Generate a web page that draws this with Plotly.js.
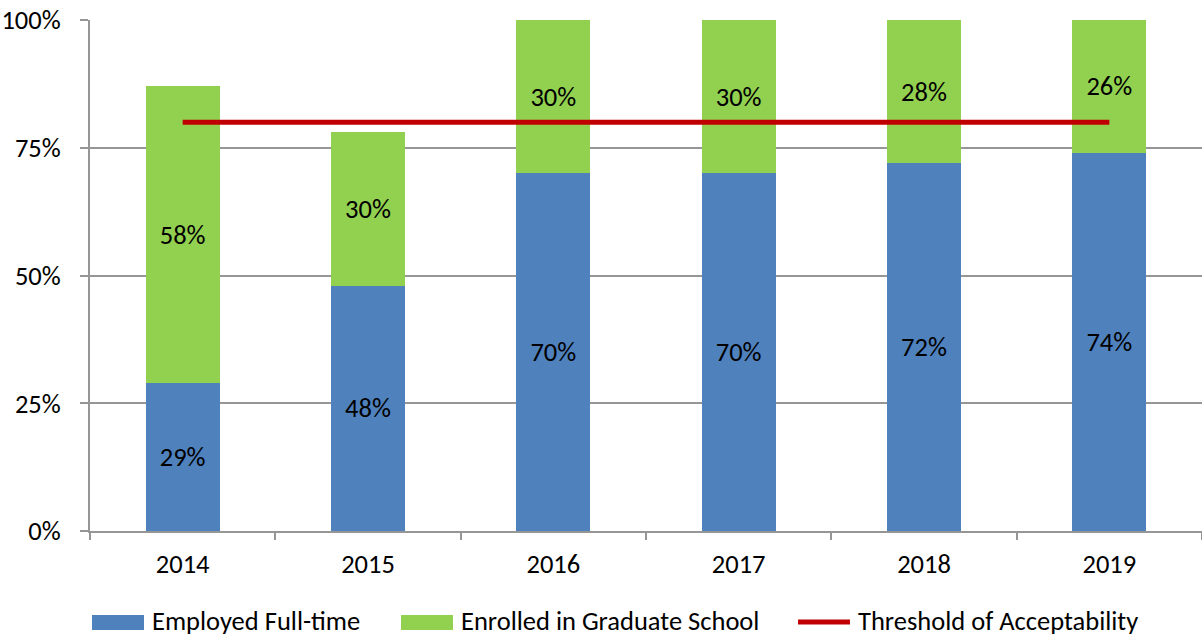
<!DOCTYPE html>
<html>
<head>
<meta charset="utf-8">
<script src="https://cdn.plot.ly/plotly-3.0.1.min.js"></script>
<style>html,body{margin:0;padding:0;background:#fff}#chart{width:1202px;height:637px}</style>
</head>
<body>
<div id="chart"></div>
<script>
const years = ['2014', '2015', '2016', '2017', '2018', '2019'];
const employed = [29, 48, 70, 70, 72, 74];
const graduate = [58, 30, 30, 30, 28, 26];
const threshold = [80, 80, 80, 80, 80, 80];
const yTickVals = [0, 25, 50, 75, 100];
const yTickText = ['0%', '25%', '50%', '75%', '100%'];
const seriesNames = ['Employed Full-time', 'Enrolled in Graduate School', 'Threshold of Acceptability'];
const seriesColors = ['#4F81BD', '#92D050', '#C00000'];

const fontFam = 'Carlito, Lato, "Open Sans", "Liberation Sans", sans-serif';
const FS = 26.5;

const traces = [
  {
    type: 'bar', name: seriesNames[0], x: years, y: employed,
    marker: {color: seriesColors[0]},
    text: employed.map(v => v + '%'), textposition: 'inside', insidetextanchor: 'middle',
    textfont: {color: '#000', size: FS, family: fontFam}, hoverinfo: 'skip', showlegend: false
  },
  {
    type: 'bar', name: seriesNames[1], x: years, y: graduate,
    marker: {color: seriesColors[1]},
    text: graduate.map(v => v + '%'), textposition: 'inside', insidetextanchor: 'middle',
    textfont: {color: '#000', size: FS, family: fontFam}, hoverinfo: 'skip', showlegend: false
  },
  {
    type: 'scatter', mode: 'lines', name: seriesNames[2], x: years, y: threshold,
    line: {color: seriesColors[2], width: 5}, hoverinfo: 'skip', showlegend: false
  }
];

// custom legend (paper coordinates), pixel-based placement
const L = 90, W = 1112, B = 531, H = 511;
const px = p => (p - L) / W;
const py = p => (B - p) / H;
const legendItems = [
  {x0: 92, text: 150, kind: 'rect'},
  {x0: 401, text: 459, kind: 'rect'},
  {x0: 798, text: 856, kind: 'line'}
];
const shapes = [];
const annotations = [];
legendItems.forEach((it, i) => {
  if (it.kind === 'rect') {
    shapes.push({type: 'rect', xref: 'paper', yref: 'paper',
      x0: px(it.x0), x1: px(it.x0 + 52), y0: py(630), y1: py(615),
      fillcolor: seriesColors[i], line: {width: 0}});
  } else {
    shapes.push({type: 'line', xref: 'paper', yref: 'paper',
      x0: px(it.x0), x1: px(it.x0 + 52), y0: py(622), y1: py(622),
      line: {color: seriesColors[i], width: 5}});
  }
  annotations.push({xref: 'paper', yref: 'paper', x: px(it.text), y: py(621),
    xanchor: 'left', yanchor: 'middle', showarrow: false, text: seriesNames[i],
    font: {size: FS, color: '#000', family: fontFam}});
});

const layout = {
  width: 1202, height: 637,
  margin: {l: 90, r: 0, t: 20, b: 106},
  barmode: 'stack', bargap: 0.6,
  paper_bgcolor: '#fff', plot_bgcolor: '#fff',
  font: {family: fontFam, size: FS, color: '#000'},
  showlegend: false,
  shapes: shapes, annotations: annotations,
  xaxis: {
    type: 'category', showgrid: false, showline: true, linecolor: '#969696', linewidth: 2,
    ticks: 'outside', tickson: 'boundaries', ticklen: 7, tickcolor: '#969696', tickwidth: 2,
    tickfont: {size: FS}, range: [-0.5, 5.5], ticklabelstandoff: 8, automargin: false
  },
  yaxis: {
    range: [0, 100], tickvals: yTickVals, ticktext: yTickText,
    showgrid: true, gridcolor: '#969696', gridwidth: 2,
    showline: true, linecolor: '#969696', linewidth: 2,
    ticks: 'outside', ticklen: 8, tickcolor: '#969696', tickwidth: 2,
    tickfont: {size: FS}, zeroline: false, ticklabelstandoff: 14, automargin: false
  }
};

Plotly.newPlot('chart', traces, layout, {staticPlot: true});
</script>
</body>
</html>
